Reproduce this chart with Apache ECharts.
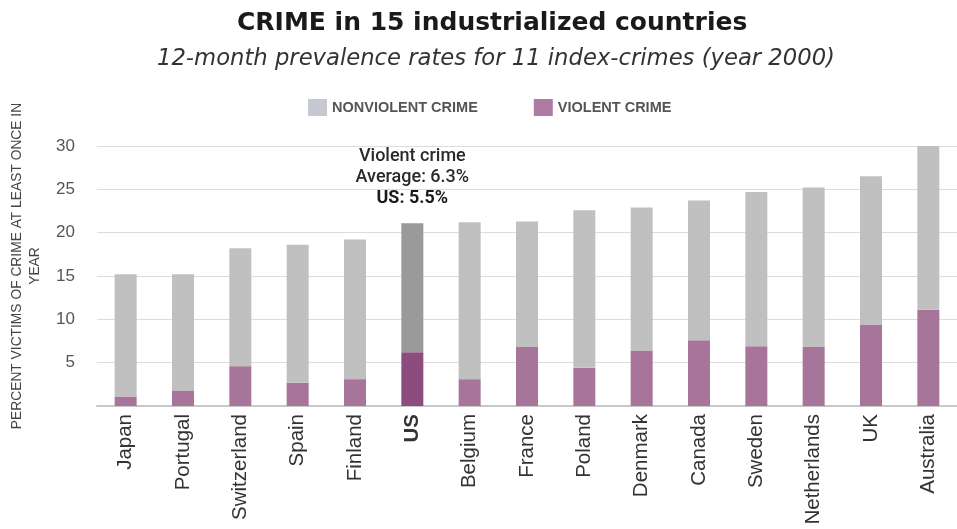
<!DOCTYPE html>
<html>
<head>
<meta charset="utf-8">
<script src="https://cdn.jsdelivr.net/npm/echarts@6/dist/echarts.min.js"></script>
<style>
  html, body { margin: 0; padding: 0; background: #fff; }
  #chart { width: 957px; height: 529px; }
</style>
</head>
<body>
<div id="chart"></div>
<script>
// countries, sorted by total prevalence
const countries = ["Japan", "Portugal", "Switzerland", "Spain", "Finland", "US", "Belgium",
  "France", "Poland", "Denmark", "Canada", "Sweden", "Netherlands", "UK", "Australia"];
// percent victims, stacked: violent at the bottom, nonviolent above
const violent = [1.1, 1.8, 4.6, 2.7, 3.1, 6.2, 3.1, 6.8, 4.4, 6.4, 7.6, 6.9, 6.8, 9.4, 11.1];
const nonviolent = [14.1, 13.4, 13.6, 15.9, 16.1, 14.9, 18.1, 14.5, 18.2, 16.5, 16.1, 17.8, 18.4, 17.1, 18.9];
const yTicks = [5, 10, 15, 20, 25, 30];

const highlight = "US";
const font = "Liberation Sans";

const myChart = echarts.init(document.getElementById("chart"));

myChart.setOption({
  animation: false,
  textStyle: { fontFamily: font },
  title: [
    {
      text: "CRIME in 15 industrialized countries",
      left: 232,
      top: 6,
      textStyle: { fontFamily: "DejaVu Sans", fontSize: 25, fontWeight: "bold", color: "#1a1a1a" },
    },
    {
      text: "12-month prevalence rates for 11 index-crimes (year 2000)",
      left: 152,
      top: 43,
      textStyle: { fontFamily: "DejaVu Sans", fontSize: 22.7, fontStyle: "italic", fontWeight: "normal", color: "#333" },
    },
  ],
  legend: {
    top: 94,
    left: 303,
    itemGap: 56,
    itemWidth: 19,
    itemHeight: 17,
    icon: "rect",
    textStyle: { fontSize: 14.5, color: "#555", fontWeight: "bold" },
    data: [
      { name: "NONVIOLENT CRIME", itemStyle: { color: "#c5c8d0" } },
      { name: "VIOLENT CRIME", itemStyle: { color: "#b07aa6" } },
    ],
  },
  grid: { left: 95, right: 0, top: 146, bottom: 123 },
  xAxis: {
    type: "category",
    data: countries,
    axisLine: { lineStyle: { color: "#c8c8c8", width: 2 } },
    axisTick: { show: false },
    axisLabel: {
      rotate: 90,
      fontSize: 20.5,
      color: "#333",
      margin: 8,
      formatter: (v) => (v === highlight ? "{b|" + v + "}" : v),
      rich: { b: { fontSize: 20.5, fontWeight: "bold", color: "#333" } },
    },
  },
  yAxis: {
    type: "value",
    min: 0,
    max: 30,
    interval: 5,
    name: "PERCENT VICTIMS OF CRIME AT LEAST ONCE IN\nYEAR",
    nameLocation: "middle",
    nameRotate: 90,
    nameGap: 53,
    nameTextStyle: { fontSize: 13.8, color: "#444", lineHeight: 18, padding: [0, 0, 0, 20] },
    axisLine: { show: false },
    axisTick: { show: false },
    axisLabel: {
      fontSize: 17,
      color: "#555",
      margin: 22,
      formatter: (v) => (yTicks.includes(v) ? String(v) : ""),
    },
    splitLine: { lineStyle: { color: "#dcdcdc", width: 1 } },
  },
  series: [
    {
      name: "VIOLENT CRIME",
      type: "bar",
      stack: "total",
      barWidth: 22,
      data: violent.map((v, i) => ({
        value: v,
        itemStyle: { color: countries[i] === highlight ? "#8d4c7e" : "#a8759a" },
      })),
    },
    {
      name: "NONVIOLENT CRIME",
      type: "bar",
      stack: "total",
      barWidth: 22,
      data: nonviolent.map((v, i) => {
        const item = {
          value: v,
          itemStyle: { color: countries[i] === highlight ? "#9a9a9a" : "#c0c0c0" },
        };
        if (countries[i] === highlight) {
          item.label = {
            show: true,
            position: "top",
            distance: 14,
            formatter: "{a|Violent crime}\n{a|Average: 6.3%}\n{c|US: 5.5%}",
            rich: {
              a: { fontFamily: "Roboto", fontSize: 18, fontWeight: 500, color: "#2a2a2a", lineHeight: 21, align: "center" },
              c: { fontFamily: "Roboto", fontSize: 18, fontWeight: "bold", color: "#1a1a1a", lineHeight: 21, align: "center" },
            },
          };
        }
        return item;
      }),
    },
  ],
});
</script>
</body>
</html>
